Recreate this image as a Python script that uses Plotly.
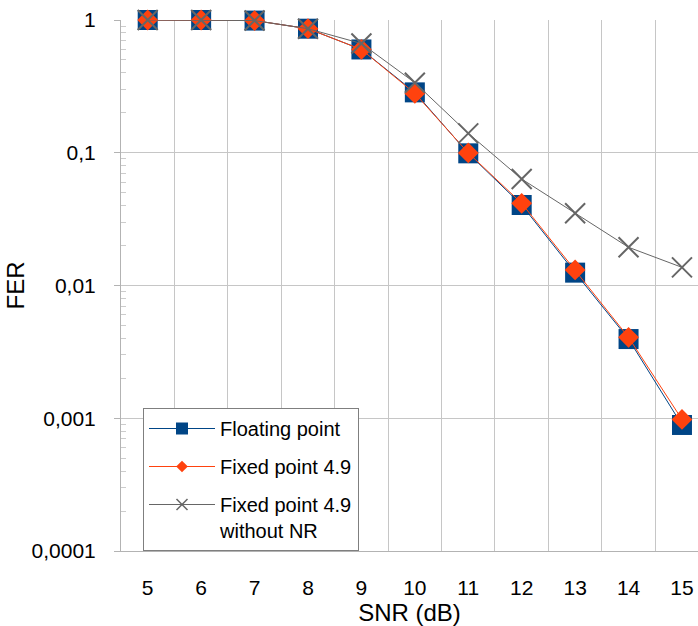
import plotly.graph_objects as go

snr = [5, 6, 7, 8, 9, 10, 11, 12, 13, 14, 15]
fer_float = [1.0, 1.0, 0.99, 0.86, 0.60, 0.285, 0.099, 0.0404, 0.0125, 0.00395, 0.00089]
fer_fixed = [1.0, 1.0, 0.99, 0.86, 0.60, 0.28, 0.0997, 0.0416, 0.0131, 0.00407, 0.00098]
fer_fixed_nonr = [1.0, 1.0, 0.99, 0.86, 0.665, 0.337, 0.14, 0.0634, 0.035, 0.0194, 0.0137]

names = ["Floating point", "Fixed point 4.9", "Fixed point 4.9<br>without NR"]
y_tickvals = [1, 0.1, 0.01, 0.001, 0.0001]
y_ticktext = ["1", "0,1", "0,01", "0,001", "0,0001"]

BLUE = "#004586"
ORANGE = "#ff420e"
GRAY = "#666666"
FONT = "Liberation Sans, Arial, sans-serif"

fig = go.Figure()

# data traces
fig.add_trace(go.Scatter(
    x=snr, y=fer_float, mode="lines+markers", showlegend=False, cliponaxis=False,
    line=dict(color=BLUE, width=1),
    marker=dict(symbol="square", size=20, color=BLUE, line=dict(width=0)),
))
fig.add_trace(go.Scatter(
    x=snr, y=fer_fixed, mode="lines+markers", showlegend=False, cliponaxis=False,
    line=dict(color=ORANGE, width=1),
    marker=dict(symbol="diamond", size=16, color=ORANGE, line=dict(width=0)),
))
fig.add_trace(go.Scatter(
    x=snr, y=fer_fixed_nonr, mode="lines+markers", showlegend=False, cliponaxis=False,
    line=dict(color=GRAY, width=1),
    marker=dict(symbol="x-thin", size=20, color=GRAY, line=dict(color=GRAY, width=2)),
))

# legend entries
legend_styles = [
    (BLUE, dict(symbol="square", size=12, color=BLUE, line=dict(width=0))),
    (ORANGE, dict(symbol="diamond", size=9, color=ORANGE, line=dict(width=0))),
    (GRAY, dict(symbol="x-thin", size=11, color=GRAY, line=dict(color=GRAY, width=1.5))),
]
for i, (nm, (col, mk)) in enumerate(zip(names, legend_styles)):
    fig.add_trace(go.Scatter(
        x=[None], y=[None], mode="lines+markers", name=nm, legendgroup=f"g{i}",
        line=dict(color=col, width=1), marker=mk,
    ))

minor_y = [m * 10 ** e for e in range(-4, 0) for m in range(2, 10)]
minor_x = [v - 0.5 for v in snr]

fig.update_layout(
    width=698, height=626,
    margin=dict(l=121, r=0, t=20, b=75),
    paper_bgcolor="white", plot_bgcolor="white",
    font=dict(family=FONT, size=21, color="#000000"),
    showlegend=True,
    legend=dict(
        x=(143 - 121) / 577, y=1 - (408 - 20) / 531,
        xanchor="left", yanchor="top",
        xref="paper", yref="paper",
        bgcolor="white", bordercolor="#7f7f7f", borderwidth=1,
        font=dict(family=FONT, size=20, color="#000000"),
        tracegroupgap=9, valign="top", itemwidth=66,
        entrywidth=164,
    ),
    xaxis=dict(
        range=[4.5, 15.3],
        tickvals=snr, ticktext=[str(v) for v in snr],
        ticks="", showgrid=False, zeroline=False,
        showline=True, linecolor="#b3b3b3", linewidth=1,
        ticklabelstandoff=18,
        minor=dict(tickvals=minor_x, showgrid=True, gridcolor="#c6c6c6", gridwidth=1, ticks=""),
        title=dict(text="SNR (dB)", font=dict(size=24), standoff=6),
    ),
    yaxis=dict(
        type="log", range=[-4, 0],
        tickvals=y_tickvals, ticktext=y_ticktext,
        ticks="outside", ticklen=6, tickcolor="#b3b3b3", tickwidth=1,
        showgrid=True, gridcolor="#c6c6c6", gridwidth=1, zeroline=False,
        showline=True, linecolor="#b3b3b3", linewidth=1,
        ticklabelstandoff=14,
        minor=dict(tickvals=minor_y, ticks="inside", ticklen=5, tickcolor="#cccccc", tickwidth=1, showgrid=False),
        title=dict(text="FER", font=dict(size=24), standoff=0),
    ),
)

fig.write_html("out.html", config={"displayModeBar": False},
               post_script="document.body.style.margin='0';")
